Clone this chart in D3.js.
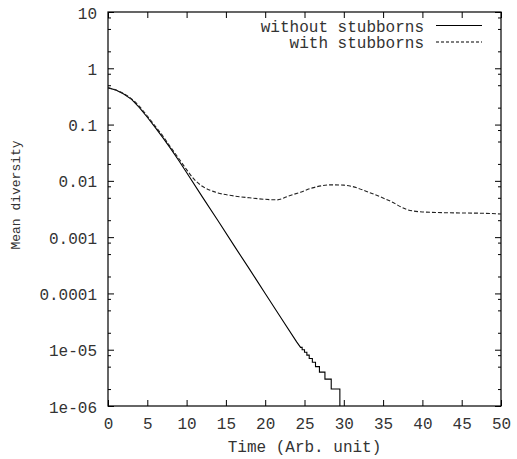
<!DOCTYPE html>
<html>
<head>
<meta charset="utf-8">
<script src="https://d3js.org/d3.v7.min.js"></script>
<style>
  body { margin: 0; background: #fff; }
  text { font-family: "Liberation Mono", "DejaVu Sans Mono", monospace; fill: #333; }
</style>
</head>
<body>
<svg id="main_graph" width="517" height="459"></svg>
<script>
// --- data ---
var xTicks = [0, 5, 10, 15, 20, 25, 30, 35, 40, 45, 50];
var yTicks = [1e-6, 1e-5, 1e-4, 1e-3, 1e-2, 1e-1, 1, 10];
var yTickLabels = ["1e-06", "1e-05", "0.0001", "0.001", "0.01", "0.1", "1", "10"];
var seriesNames = ["without stubborns", "with stubborns"];

var timeSolid  = [0, 1, 2, 3, 4, 5, 6, 7, 8, 9, 10, 12, 14, 16, 18, 20, 22, 24, 24.5,
                  24.7, 24.7, 25.0, 25.0, 25.3, 25.3, 25.6, 25.6, 26.0, 26.0, 26.4, 26.4,
                  26.9, 26.9, 27.6, 27.6, 28.4, 28.4, 29.5, 29.5];
var valueSolid = [0.45, 0.41, 0.35, 0.28, 0.20, 0.135, 0.089, 0.058, 0.037, 0.023, 0.0141,
                  0.0052, 0.00195, 7.2e-4, 2.7e-4, 1.0e-4, 3.7e-5, 1.38e-5, 1.1e-5,
                  1.1e-5, 1.0e-5, 1.0e-5, 9e-6, 9e-6, 8e-6, 8e-6, 7e-6, 7e-6, 6e-6, 6e-6, 5e-6,
                  5e-6, 4e-6, 4e-6, 3e-6, 3e-6, 2e-6, 2e-6, 1e-6];

var timeDashed  = [0, 1, 2, 3, 4, 5, 6, 7, 8, 9, 10, 11, 12, 13, 14, 16, 18, 20, 21.5,
                   23, 24.5, 26, 28.5, 30, 31, 33, 36, 38, 40, 44, 48, 50];
var valueDashed = [0.45, 0.41, 0.355, 0.285, 0.21, 0.142, 0.094, 0.062, 0.039, 0.025, 0.0158,
                   0.0105, 0.0080, 0.0068, 0.0061, 0.0054, 0.0050, 0.0047, 0.0046,
                   0.0054, 0.0063, 0.0075, 0.0085, 0.0084, 0.0080, 0.0064, 0.0043, 0.0031,
                   0.0028, 0.0027, 0.00265, 0.00258];

var minorMult = [2, 5, 8];

// --- layout ---
var svg = d3.select("svg");
var padL = 108, padR = 501, padT = 12, padB = 406;   // "top" is taken by window.top

var x = d3.scaleLinear().domain([0, 50]).range([padL, padR]);
var y = d3.scaleLog().domain([1e-6, 10]).range([padB, padT]);

var minorTicks = [];
yTicks.slice(0, -1).forEach(function(d) {
  minorMult.forEach(function(m) { minorTicks.push(d * m); });
});

function noDomain(g) { g.select(".domain").remove(); }

// ticks (inward, mirrored)
svg.append("g").attr("transform", "translate(" + padL + ",0)")
  .call(d3.axisLeft(y).tickValues(yTicks).tickSize(-6).tickPadding(11)
        .tickFormat(function(d, i) { return yTickLabels[i]; }))
  .call(noDomain)
  .selectAll("text").attr("dy", "0.38em");
svg.append("g").attr("transform", "translate(" + padL + ",0)")
  .call(d3.axisLeft(y).tickValues(minorTicks).tickSize(-3).tickFormat(""))
  .call(noDomain);
svg.append("g").attr("transform", "translate(" + padR + ",0)")
  .call(d3.axisRight(y).tickValues(yTicks).tickSize(-6).tickFormat(""))
  .call(noDomain);
svg.append("g").attr("transform", "translate(" + padR + ",0)")
  .call(d3.axisRight(y).tickValues(minorTicks).tickSize(-3).tickFormat(""))
  .call(noDomain);

svg.append("g").attr("transform", "translate(0," + padB + ")")
  .call(d3.axisBottom(x).tickValues(xTicks).tickSize(-6).tickPadding(17))
  .call(noDomain)
  .selectAll("text").attr("dy", "0.35em");
svg.append("g").attr("transform", "translate(0," + padT + ")")
  .call(d3.axisTop(x).tickValues(xTicks).tickSize(-6).tickFormat(""))
  .call(noDomain);

svg.selectAll(".tick line").attr("stroke", "#000");
svg.selectAll(".tick text")
  .attr("font-family", null)
  .attr("font-size", null)
  .style("font-size", "16px")
  .attr("fill", "#333");

// border
svg.append("rect")
  .attr("x", padL).attr("y", padT)
  .attr("width", padR - padL).attr("height", padB - padT)
  .attr("fill", "none").attr("stroke", "#000").attr("stroke-width", 1.2);

// clip
svg.append("clipPath").attr("id", "clip")
  .append("rect").attr("x", padL).attr("y", padT)
  .attr("width", padR - padL).attr("height", padB - padT + 1);

var line = d3.line()
  .x(function(d) { return x(d[0]); })
  .y(function(d) { return y(d[1]); });

var solid = timeSolid.map(function(t, i) { return [t, valueSolid[i]]; });
var dashed = timeDashed.map(function(t, i) { return [t, valueDashed[i]]; });

svg.append("path").datum(solid)
  .attr("clip-path", "url(#clip)")
  .attr("d", line)
  .attr("fill", "none").attr("stroke", "#000").attr("stroke-width", 1.1);

svg.append("path").datum(dashed)
  .attr("clip-path", "url(#clip)")
  .attr("d", line.curve(d3.curveMonotoneX))
  .attr("fill", "none").attr("stroke", "#222").attr("stroke-width", 1.1)
  .attr("stroke-dasharray", "4,2");

// axis titles
svg.append("text")
  .attr("x", (padL + padR) / 2).attr("y", 452)
  .attr("text-anchor", "middle").style("font-size", "16px")
  .text("Time (Arb. unit)");

svg.append("text")
  .attr("transform", "translate(20,195) rotate(-90)")
  .attr("text-anchor", "middle").style("font-size", "13px")
  .text("Mean diversity");

// legend
var legend = svg.append("g");
[0, 1].forEach(function(i) {
  var ly = 26 + i * 16.5;
  legend.append("text")
    .attr("x", 424).attr("y", ly).attr("dy", "0.35em")
    .attr("text-anchor", "end").style("font-size", "16px")
    .text(seriesNames[i]);
  legend.append("line")
    .attr("x1", 436).attr("x2", 482).attr("y1", ly - 0.5).attr("y2", ly - 0.5)
    .attr("stroke", "#000").attr("stroke-width", 1.1)
    .attr("stroke-dasharray", i === 1 ? "3,2" : null);
});
</script>
</body>
</html>
